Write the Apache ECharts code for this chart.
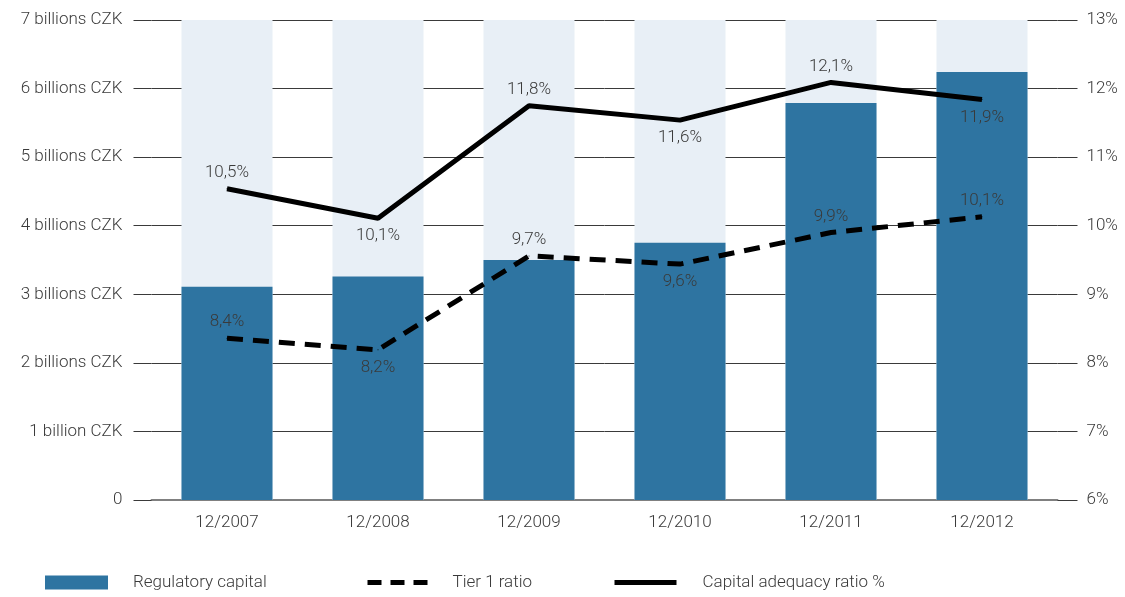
<!DOCTYPE html>
<html>
<head>
<meta charset="utf-8">
<script src="https://cdn.jsdelivr.net/npm/echarts@6/dist/echarts.min.js"></script>
<style>
  html, body { margin: 0; padding: 0; background: #fff; }
  #chart { width: 1125px; height: 597px; }
</style>
</head>
<body>
<div id="chart"></div>
<script>
// categories
const years = ['12/2007', '12/2008', '12/2009', '12/2010', '12/2011', '12/2012'];
// regulatory capital, billions CZK
const capital = [3.11, 3.26, 3.5, 3.75, 5.79, 6.24];
// ratios in %
const tier1 = [8.36, 8.19, 9.56, 9.44, 9.9, 10.13];
const tier1Labels = ['8,4%', '8,2%', '9,7%', '9,6%', '9,9%', '10,1%'];
const tier1Pos = ['top', 'bottom', 'top', 'bottom', 'top', 'top'];
const car = [10.54, 10.11, 11.75, 11.54, 12.09, 11.84];
const carLabels = ['10,5%', '10,1%', '11,8%', '11,6%', '12,1%', '11,9%'];
const carPos = ['top', 'bottom', 'top', 'bottom', 'top', 'bottom'];

const FONT = 'Roboto';
const TXT = '#3a3a3a';

function lineData(values, pos) {
    return values.map((v, i) => ({
        value: v,
        label: { position: pos[i], distance: pos[i] === 'top' ? 7 : 9 }
    }));
}

function legendText(pad) {
    return { fontFamily: FONT, fontWeight: 300, fontSize: 17, color: TXT, padding: [0, 0, 0, pad] };
}

const chart = echarts.init(document.getElementById('chart'));

const option = {
    animation: false,
    grid: { left: 151.5, right: 67.5, top: 20, bottom: 97 },
    legend: [
        {
            left: 40, top: 569, itemWidth: 63, itemHeight: 14,
            textStyle: legendText(20),
            data: [{ name: 'Regulatory capital', icon: 'rect' }]
        },
        {
            left: 360, top: 569, itemWidth: 62, itemHeight: 14,
            textStyle: legendText(18),
            itemStyle: { opacity: 0 },
            lineStyle: { width: 5, type: [14, 9] },
            data: [{ name: 'Tier 1 ratio' }]
        },
        {
            left: 607, top: 569, itemWidth: 62, itemHeight: 14,
            textStyle: legendText(21),
            itemStyle: { opacity: 0 },
            lineStyle: { width: 5 },
            data: [{ name: 'Capital adequacy ratio %' }]
        }
    ],
    xAxis: {
        type: 'category',
        data: years,
        axisLine: { lineStyle: { color: '#808080', width: 2 } },
        axisTick: { show: false },
        axisLabel: { fontFamily: FONT, fontWeight: 300, fontSize: 17, color: TXT, margin: 14 }
    },
    yAxis: [
        {
            type: 'value', min: 0, max: 7, interval: 1,
            axisLine: { show: false },
            axisTick: { show: true, inside: false, length: 18, lineStyle: { color: '#3a3a3a' } },
            splitLine: { lineStyle: { color: ['#808080', '#3a3a3a', '#3a3a3a', '#3a3a3a', '#3a3a3a', '#3a3a3a', '#3a3a3a', '#3a3a3a'] } },
            axisLabel: {
                fontFamily: FONT, fontWeight: 300, fontSize: 17, color: TXT, margin: 29,
                formatter: v => v === 0 ? '0' : (v === 1 ? '1 billion CZK' : v + ' billions CZK')
            }
        },
        {
            type: 'value', min: 6, max: 13, interval: 1, position: 'right',
            axisLine: { show: false },
            axisTick: { show: true, inside: false, length: 20, lineStyle: { color: '#3a3a3a' } },
            splitLine: { show: false },
            axisLabel: { fontFamily: FONT, fontWeight: 300, fontSize: 17, color: TXT, margin: 29, formatter: '{value}%' }
        }
    ],
    series: [
        {
            name: 'Regulatory capital', type: 'bar', yAxisIndex: 0,
            data: capital, barWidth: 91,
            itemStyle: { color: '#2e74a1' },
            showBackground: true,
            backgroundStyle: { color: '#e8eff6' },
            z: 2
        },
        {
            name: 'Tier 1 ratio', type: 'line', yAxisIndex: 1,
            data: lineData(tier1, tier1Pos),
            symbol: 'circle', symbolSize: 1,
            itemStyle: { color: '#000' },
            lineStyle: { color: '#000', width: 5, type: [16, 10] },
            label: {
                show: true, fontFamily: FONT, fontWeight: 300, fontSize: 17, color: TXT,
                formatter: p => tier1Labels[p.dataIndex]
            },
            z: 3
        },
        {
            name: 'Capital adequacy ratio %', type: 'line', yAxisIndex: 1,
            data: lineData(car, carPos),
            symbol: 'circle', symbolSize: 1,
            itemStyle: { color: '#000' },
            lineStyle: { color: '#000', width: 5 },
            label: {
                show: true, fontFamily: FONT, fontWeight: 300, fontSize: 17, color: TXT,
                formatter: p => carLabels[p.dataIndex]
            },
            z: 3
        }
    ]
};

chart.setOption(option);
</script>
</body>
</html>
